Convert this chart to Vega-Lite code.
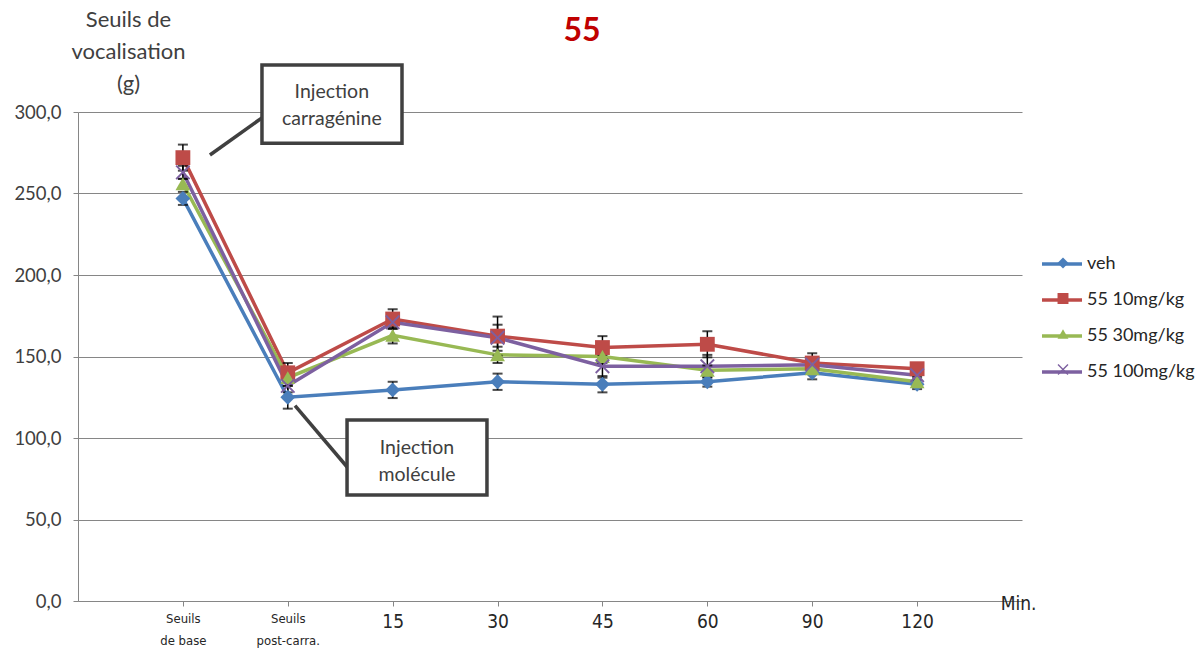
{
  "$schema": "https://vega.github.io/schema/vega-lite/v6.json",
  "autosize": {"type": "none"},
  "width": 944,
  "height": 489,
  "padding": {"left": 78, "top": 112, "right": 176, "bottom": 50},
  "background": "white",
  "title": {"text": "55", "fontSize": 32, "fontWeight": "bold", "color": "#C00000", "font": "Lato", "dx": 32, "offset": 0, "dy": 40, "anchor": "middle"},
  "config": {
    "view": {"stroke": null},
    "font": "Lato"
  },
  "datasets": {
    "main": [
      {"t": 1, "series": "veh", "v": 247, "lo": 243, "hi": 251},
      {"t": 2, "series": "veh", "v": 125, "lo": 118, "hi": 132},
      {"t": 3, "series": "veh", "v": 129.5, "lo": 124.5, "hi": 134.5},
      {"t": 4, "series": "veh", "v": 134.5, "lo": 129.5, "hi": 139.5},
      {"t": 5, "series": "veh", "v": 133, "lo": 128, "hi": 138},
      {"t": 6, "series": "veh", "v": 134.5, "lo": 131.5, "hi": 137.5},
      {"t": 7, "series": "veh", "v": 140, "lo": 136, "hi": 144},
      {"t": 8, "series": "veh", "v": 133, "lo": 130, "hi": 136},
      {"t": 1, "series": "55 10mg/kg", "v": 272, "lo": 264, "hi": 280},
      {"t": 2, "series": "55 10mg/kg", "v": 140, "lo": 134, "hi": 146},
      {"t": 3, "series": "55 10mg/kg", "v": 173, "lo": 167, "hi": 179},
      {"t": 4, "series": "55 10mg/kg", "v": 162.5, "lo": 150.5, "hi": 174.5},
      {"t": 5, "series": "55 10mg/kg", "v": 155.5, "lo": 148.5, "hi": 162.5},
      {"t": 6, "series": "55 10mg/kg", "v": 157.5, "lo": 149.5, "hi": 165.5},
      {"t": 7, "series": "55 10mg/kg", "v": 146, "lo": 140, "hi": 152},
      {"t": 8, "series": "55 10mg/kg", "v": 142.5, "lo": 140.5, "hi": 144.5},
      {"t": 1, "series": "55 30mg/kg", "v": 256, "lo": 253, "hi": 259},
      {"t": 2, "series": "55 30mg/kg", "v": 137, "lo": 132, "hi": 142},
      {"t": 3, "series": "55 30mg/kg", "v": 163, "lo": 158, "hi": 168},
      {"t": 4, "series": "55 30mg/kg", "v": 151, "lo": 146, "hi": 156},
      {"t": 5, "series": "55 30mg/kg", "v": 150, "lo": 146, "hi": 154},
      {"t": 6, "series": "55 30mg/kg", "v": 141.5, "lo": 138.5, "hi": 144.5},
      {"t": 7, "series": "55 30mg/kg", "v": 142.5, "lo": 139.5, "hi": 145.5},
      {"t": 8, "series": "55 30mg/kg", "v": 134.5, "lo": 131.5, "hi": 137.5},
      {"t": 1, "series": "55 100mg/kg", "v": 263, "lo": 259, "hi": 267},
      {"t": 2, "series": "55 100mg/kg", "v": 132, "lo": 128, "hi": 136},
      {"t": 3, "series": "55 100mg/kg", "v": 171, "lo": 167, "hi": 175},
      {"t": 4, "series": "55 100mg/kg", "v": 161.5, "lo": 153.5, "hi": 169.5},
      {"t": 5, "series": "55 100mg/kg", "v": 144, "lo": 137, "hi": 151},
      {"t": 6, "series": "55 100mg/kg", "v": 144, "lo": 137, "hi": 151},
      {"t": 7, "series": "55 100mg/kg", "v": 145, "lo": 141, "hi": 149},
      {"t": 8, "series": "55 100mg/kg", "v": 138.5, "lo": 135.5, "hi": 141.5}
    ],
    "boxes": [
      {"t": 1.754, "t2": 3.089, "v": 280.9, "v2": 328.8, "tc": 2.42, "vc": 312.3, "label": "Injection|carragénine"},
      {"t": 2.565, "t2": 3.899, "v": 65, "v2": 111.0, "tc": 3.232, "vc": 93.9, "label": "Injection|molécule"}
    ],
    "links": [
      {"t": 1.258, "v": 273.6, "t2": 1.764, "v2": 296.9},
      {"t": 2.069, "v": 119.8, "t2": 2.574, "v2": 81.6}
    ]
  },
  "layer": [
    {
      "data": {"name": "main"},
      "mark": {"type": "line", "strokeWidth": 3.5},
      "encoding": {
        "x": {"field": "t", "type": "quantitative", "scale": {"domain": [0, 9]}, "title": "Min.",
          "axis": {
            "values": [1, 2, 3, 4, 5, 6, 7, 8],
            "grid": false,
            "domainColor": "#868686", "domainWidth": 1,
            "tickColor": "#868686", "tickSize": 5,
            "labelExpr": "datum.value == 1 ? ['Seuils', 'de base'] : datum.value == 2 ? ['Seuils', 'post-carra.'] : datum.value == 3 ? '15' : datum.value == 4 ? '30' : datum.value == 5 ? '45' : datum.value == 6 ? '60' : datum.value == 7 ? '90' : '120'",
            "labelFont": "'DejaVu Sans Condensed', 'Liberation Sans', sans-serif",
            "labelFontSize": {"condition": {"test": "datum.value <= 2", "value": 13}, "value": 19},
            "labelColor": "#262626",
            "labelPadding": 6,
            "labelLineHeight": 22,
            "titleFont": "'DejaVu Sans Condensed', 'Liberation Sans', sans-serif",
            "titleFontSize": 19,
            "titleFontWeight": "normal",
            "titleColor": "#262626",
            "titleX": 940, "titleY": 2,
            "titleAlign": "center", "titleBaseline": "middle", "titleAnchor": null
          }
        },
        "y": {"field": "v", "type": "quantitative", "scale": {"domain": [0, 300]}, "title": ["Seuils de", "vocalisation", "(g)"],
          "axis": {
            "values": [0, 50, 100, 150, 200, 250, 300],
            "gridColor": "#868686", "gridWidth": 1,
            "domainColor": "#868686", "domainWidth": 1,
            "tickColor": "#868686", "tickSize": 5,
            "labelExpr": "replace(format(datum.value, '.1f'), '.', ',')",
            "labelFont": "Lato", "labelFontSize": 18.5, "labelColor": "#404040",
            "labelPadding": 12,
            "titleAngle": 0, "titleFont": "Lato", "titleFontSize": 22, "titleFontWeight": "normal",
            "titleColor": "#404040", "titleX": 50, "titleY": -103, "titleAlign": "center",
            "titleBaseline": "top", "titleLineHeight": 32
          }
        },
        "stroke": {"field": "series", "type": "nominal",
          "sort": ["veh", "55 10mg/kg", "55 30mg/kg", "55 100mg/kg"],
          "scale": {"range": ["#4A7EBB", "#BE4B48", "#98B954", "#7D60A0"]},
          "legend": {"title": null, "orient": "none", "legendX": 962, "legendY": 130, "symbolType": "stroke", "symbolSize": 1600, "symbolStrokeWidth": 3.5, "rowPadding": 5, "labelFontSize": 18, "labelFont": "Lato", "labelColor": "#262626", "labelOffset": 3, "symbolOffset": 0}
        }
      }
    },
    {
      "data": {"name": "main"},
      "mark": {"type": "rule", "color": "#000000", "strokeWidth": 1.5},
      "encoding": {
        "x": {"field": "t", "type": "quantitative", "title": "Min."},
        "y": {"field": "lo", "type": "quantitative", "title": ["Seuils de", "vocalisation", "(g)"]},
        "y2": {"field": "hi"}
      }
    },
    {
      "data": {"name": "main"},
      "mark": {"type": "tick", "color": "#000000", "thickness": 2, "size": 10, "orient": "horizontal"},
      "encoding": {
        "x": {"field": "t", "type": "quantitative", "title": "Min."},
        "y": {"field": "lo", "type": "quantitative", "title": ["Seuils de", "vocalisation", "(g)"]}
      }
    },
    {
      "data": {"name": "main"},
      "mark": {"type": "tick", "color": "#000000", "thickness": 2, "size": 10, "orient": "horizontal"},
      "encoding": {
        "x": {"field": "t", "type": "quantitative", "title": "Min."},
        "y": {"field": "hi", "type": "quantitative", "title": ["Seuils de", "vocalisation", "(g)"]}
      }
    },
    {
      "data": {"name": "main"},
      "mark": {"type": "point", "filled": true, "opacity": 1, "size": 220, "strokeWidth": 0},
      "encoding": {
        "x": {"field": "t", "type": "quantitative", "title": "Min."},
        "y": {"field": "v", "type": "quantitative", "title": ["Seuils de", "vocalisation", "(g)"]},
        "color": {"field": "series", "type": "nominal",
          "scale": {"domain": ["veh", "55 10mg/kg", "55 30mg/kg", "55 100mg/kg"], "range": ["#4A7EBB", "#BE4B48", "#98B954", "#7D60A0"]},
          "legend": {"title": "", "orient": "none", "legendX": 962, "legendY": 142, "symbolSize": 120, "symbolStrokeWidth": 0, "rowPadding": 17.5, "labelFontSize": 18, "labelFont": "Lato", "labelColor": "#262626", "labelOpacity": 0, "labelOffset": 3, "symbolOffset": 14, "symbolOpacity": 1}
        },
        "shape": {"field": "series", "type": "nominal",
          "scale": {"domain": ["veh", "55 10mg/kg", "55 30mg/kg", "55 100mg/kg"], "range": ["diamond", "square", "triangle-up", "M-1,-0.82L-0.82,-1L0,-0.18L0.82,-1L1,-0.82L0.18,0L1,0.82L0.82,1L0,0.18L-0.82,1L-1,0.82L-0.18,0Z"]},
          "legend": {"title": "", "orient": "none", "legendX": 962, "legendY": 142, "symbolSize": 120, "symbolStrokeWidth": 0, "rowPadding": 17.5, "labelFontSize": 18, "labelFont": "Lato", "labelColor": "#262626", "labelOpacity": 0, "labelOffset": 3, "symbolOffset": 14, "symbolOpacity": 1}
        }
      }
    },
    {
      "data": {"name": "links"},
      "mark": {"type": "rule", "color": "#404040", "strokeWidth": 3.5},
      "encoding": {
        "x": {"field": "t", "type": "quantitative", "title": "Min."},
        "y": {"field": "v", "type": "quantitative", "title": ["Seuils de", "vocalisation", "(g)"]},
        "x2": {"field": "t2"},
        "y2": {"field": "v2"}
      }
    },
    {
      "data": {"name": "boxes"},
      "mark": {"type": "rect", "fill": "white", "stroke": "#404040", "strokeWidth": 3.5},
      "encoding": {
        "x": {"field": "t", "type": "quantitative", "title": "Min."},
        "y": {"field": "v", "type": "quantitative", "title": ["Seuils de", "vocalisation", "(g)"]},
        "x2": {"field": "t2"},
        "y2": {"field": "v2"}
      }
    },
    {
      "data": {"name": "boxes"},
      "mark": {"type": "text", "lineBreak": "|", "font": "Lato", "fontSize": 19.5, "color": "#404040", "lineHeight": 27, "align": "center", "baseline": "middle"},
      "encoding": {
        "x": {"field": "tc", "type": "quantitative", "title": "Min."},
        "y": {"field": "vc", "type": "quantitative", "title": ["Seuils de", "vocalisation", "(g)"]},
        "text": {"field": "label", "type": "nominal"}
      }
    }
  ]
}
